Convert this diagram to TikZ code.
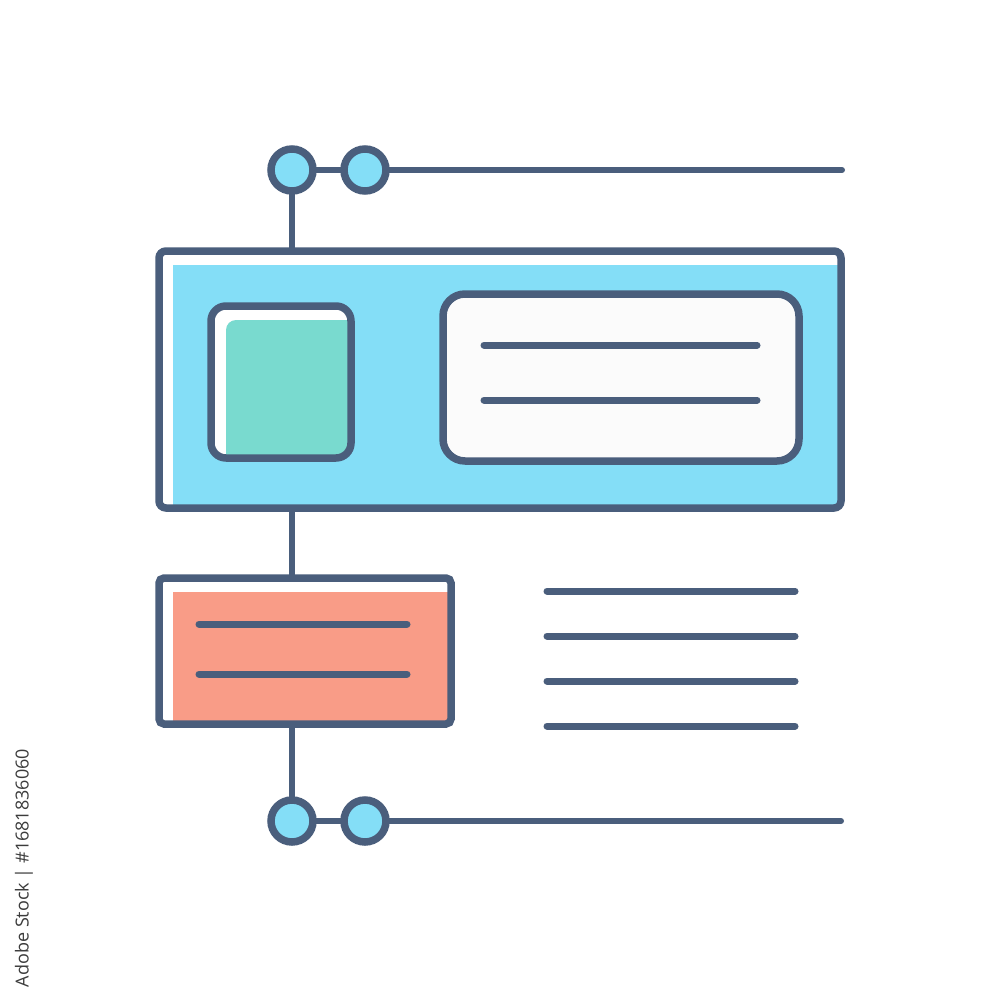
\documentclass[tikz,border=0pt]{standalone}
\usepackage{fontspec}
\newfontfamily\wmfont{Open Sans}
\definecolor{ink}{HTML}{4A5E7C}
\definecolor{bluefill}{HTML}{84DEF7}
\definecolor{greenfill}{HTML}{79DACF}
\definecolor{orangefill}{HTML}{F99C87}
\definecolor{paper}{HTML}{FBFBFB}
\definecolor{wmtext}{HTML}{3C3C3C}
\tikzset{
  frame/.style={draw=ink, line width=7.5pt, inner sep=0pt, outer sep=0pt},
  dot/.style={circle, draw=ink, fill=bluefill, line width=7.5pt, minimum size=42pt, inner sep=0pt, outer sep=0pt},
  link/.style={draw=ink, line width=6pt},
  textline/.style={draw=ink, line width=7pt, line cap=round},
}
\begin{document}
\begin{tikzpicture}[x=1pt,y=-1pt]
\useasboundingbox[fill=white] (0,0) rectangle (1000,1000);

% --- blue panel
\fill[bluefill] (173,265) rectangle (841,508);
\node[frame, rounded corners=7pt, minimum width=682pt, minimum height=257pt] (panel) at (500,379.5) {};

% green tile
\fill[white, rounded corners=15pt] (211,306) rectangle (351,458);
\fill[greenfill] (349,457) -- (226,457) -- (226,330) arc[start angle=180,end angle=270,radius=10] -- (349,320) -- cycle;
\node[frame, rounded corners=15pt, minimum width=140pt, minimum height=152pt] (tile) at (281,382) {};

% white card
\node[frame, fill=paper, rounded corners=22pt, minimum width=356pt, minimum height=167pt] (card) at (621,377.5) {};
\draw[textline] (484,345) -- (757,345);
\draw[textline] (484,400) -- (757,400);

% --- orange panel
\fill[orangefill] (173,592) rectangle (451,724);
\node[frame, rounded corners=5pt, minimum width=292pt, minimum height=146pt] (note) at (305,651) {};
\draw[textline] (199,624) -- (407,624);
\draw[textline] (199,674) -- (407,674);

% right text lines
\draw[textline] (547,591) -- (795,591);
\draw[textline] (547,636) -- (795,636);
\draw[textline] (547,681) -- (795,681);
\draw[textline] (547,726) -- (795,726);

% --- circles
\node[dot] (c1) at (292,170) {};
\node[dot] (c2) at (365,170) {};
\node[dot] (c3) at (292,821) {};
\node[dot] (c4) at (365,821) {};
\coordinate (t1) at (842,170);
\coordinate (t2) at (841,822);

% connectors
\draw[link] (c1) -- (c2);
\draw[link, line cap=round] (c2.east) -- (c2.east -| t1);
\draw[link] (c3) -- (c4);
\draw[link, line cap=round] (c4.east) -- (c4.east -| t2);
\draw[link] (c1.south) -- (c1.south |- panel.north);
\draw[link] (panel.south -| c1) -- (note.north -| c1);
\draw[link] (note.south -| c1) -- (c3.north);

% side credit
\node[rotate=90, text=wmtext, font=\wmfont\fontsize{18}{20}\selectfont, inner sep=0pt] (credit) at (24,868) {Adobe Stock | \#1681836060};
\end{tikzpicture}
\end{document}
